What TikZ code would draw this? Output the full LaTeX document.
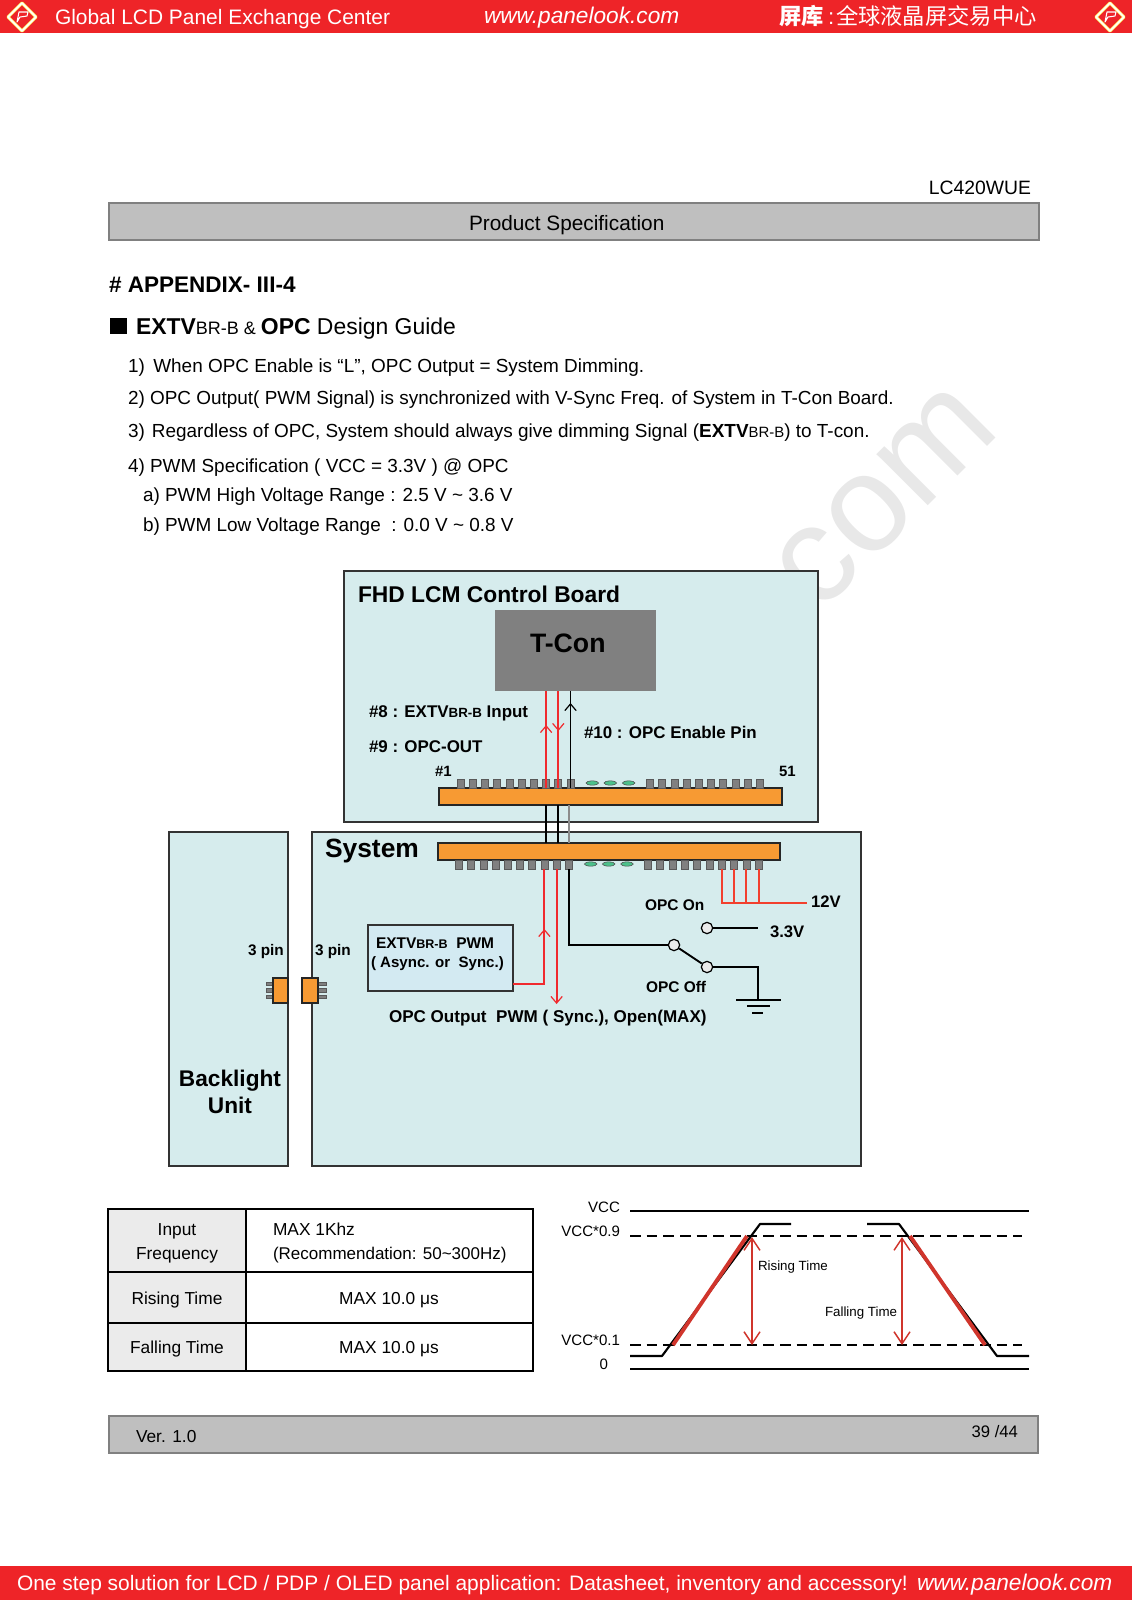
\documentclass[tikz,border=0pt]{standalone}
\usepackage{fontspec}
\setmainfont{Liberation Sans}
\newfontfamily\cjk{Noto Sans CJK SC}
\usetikzlibrary{arrows.meta,calc,shapes.geometric}
\newcommand\pz[1]{\fontsize{#1}{#1}\selectfont}
\newcommand\rbox[6]{\node[#1,inner sep=0pt,outer sep=0pt,minimum width={((#5)-(#3))*0.75pt},minimum height={((#6)-(#4))*0.75pt}] (#2) at ({((#3)+(#5))/2},{((#4)+(#6))/2}) {};}
\definecolor{barred}{HTML}{EE2428}
\definecolor{panel}{HTML}{D6ECED}
\definecolor{extfill}{HTML}{D3EAF2}
\definecolor{orangeb}{HTML}{F79A33}
\definecolor{wirered}{HTML}{F02A2E}
\definecolor{wire12}{HTML}{F2402E}
\definecolor{wave}{HTML}{D0352C}
\tikzset{
 txt/.style={anchor=base west,inner sep=0pt,outer sep=0pt,text=#1},
 txt/.default=black,
 ctxt/.style={anchor=base,inner sep=0pt,outer sep=0pt,text=black},
 rtxt/.style={anchor=base east,inner sep=0pt,outer sep=0pt,text=black},
 redbar/.style={fill=barred,draw=none},
 graybar/.style={fill=black!25,draw=black!50,line width=.9pt},
 panelbox/.style={fill=panel,draw=black!80,line width=.9pt},
 orangebox/.style={fill=orangeb,draw=black!85,line width=1pt},
 pinbox/.style={fill=black!50,draw=black!65,line width=.5pt},
 dotpin/.style={ellipse,fill=teal!70!green!70,draw=black!70,line width=.4pt,inner sep=0pt,minimum width=9.5pt,minimum height=3.2pt},
 redw/.style={draw=wirered,line width=1.5pt},
 blkw/.style={draw=black,line width=1.4pt},
 busw/.style={draw=black,line width=1.8pt},
 barb/.style={-{Straight Barb[length=5pt,width=8.5pt,line width=.9pt]}},
 swc/.style={circle,fill=black!8,draw=black,line width=.9pt,inner sep=0pt,minimum size=8.5pt},
 wf/.style={draw=black,line width=1.6pt},
 wfd/.style={draw=black,line width=1.5pt,dash pattern=on 8pt off 4.5pt},
 wfr/.style={draw=wave,line width=2.9pt},
 wfa/.style={draw=wave,line width=1.1pt,{Straight Barb[length=9pt,width=12pt,line width=1.1pt]}-{Straight Barb[length=9pt,width=12pt,line width=1.1pt]}},
 logo/.style={draw=white,line width=1.5pt,line join=round},
}
\begin{document}
\begin{tikzpicture}[x=0.75pt,y=-0.75pt]
\useasboundingbox (0,0) rectangle (1132,1600);
% watermark
\node[rotate=45,inner sep=0pt,text=black!9] (wm) at (885,498) {\pz{103}com};
% bars
\rbox{redbar}{topbar}{0}{0}{1132}{33}
\rbox{redbar}{botbar}{0}{1566}{1132}{1600}
\foreach \n/\cx in {la/22,lb/1110}{
 \draw[logo,draw=yellow!60!white,line width=2.2pt] (\cx,3)--(\cx+14,17)--(\cx,31)--(\cx-14,17)--cycle;
 \draw[logo,line width=1.2pt] (\cx,3)--(\cx+14,17)--(\cx,31)--(\cx-14,17)--cycle;
 \draw[white,line width=.8pt,line join=round] (\cx-5,22)--(\cx-3,12)--(\cx+6,12)--(\cx+5,16)--(\cx-2,17)--cycle;
}
\node[txt=white] (h1) at (55,24) {\pz{15.7}Global LCD Panel Exchange Center};
\node[txt=white] (h2) at (484,23) {\pz{17}\itshape www.panelook.com};
\node[txt=white] (h3) at (779,24) {\pz{16.7}\cjk\bfseries 屏库};
\node[txt=white] (h4) at (828,24) {\pz{16.7}:\hspace{1.5pt}\cjk 全球液晶屏交易中心};
\node[txt=white] (f1) at (17,1590) {\pz{15.7}One step solution for LCD / PDP / OLED panel application: Datasheet, inventory and accessory!};
\node[txt=white] (f2) at (917,1590) {\pz{17}\itshape www.panelook.com};
% heading
\node[rtxt] (model) at (1031,194) {\pz{14.5}LC420WUE};
\rbox{graybar}{specbar}{109}{203}{1039}{240}
\node[txt] (spec) at (469,230) {\pz{15.6}Product Specification};
\node[txt] (app) at (109,292) {\pz{16.9}\bfseries \# APPENDIX- III-4};
\rbox{fill=black}{sq}{110}{318}{127}{334}
\node[txt] (guide) at (136,334) {\pz{17.2}\textbf{EXTV}{\pz{13.5}BR-B \& }\textbf{OPC} Design Guide};
\node[txt] (l1) at (128,372) {\pz{14.2}1)\hspace{.45em}When OPC Enable is “L", OPC Output = System Dimming.};
\node[txt] (l2) at (128,404) {\pz{14.2}2) OPC Output( PWM Signal) is synchronized with V-Sync Freq. of System in T-Con Board.};
\node[txt] (l3) at (128,437) {\pz{14.2}3)\hspace{.1em} Regardless of OPC, System should always give dimming Signal (\textbf{EXTV}{\pz{11.2}BR-B}) to T-con.};
\node[txt] (l4) at (128,472) {\pz{14.2}4) PWM Specification ( VCC = 3.3V ) @ OPC};
\node[txt] (l5) at (143,501) {\pz{14.2}a) PWM High Voltage Range : 2.5 V \textasciitilde{} 3.6 V};
\node[txt] (l6) at (143,531) {\pz{14.2}b) PWM Low Voltage Range \ : 0.0 V \textasciitilde{} 0.8 V};
% boxes
\rbox{panelbox}{fhd}{344}{571}{818}{822}
\rbox{panelbox}{blu}{169}{832}{288}{1166}
\rbox{panelbox}{sys}{312}{832}{861}{1166}
\rbox{fill=black!50}{tcon}{495}{610}{656}{691}
\node[txt] (fhdt) at (358,602) {\pz{17.1}\bfseries FHD LCM Control Board};
\node[txt] (tcont) at (530,652) {\pz{20}\bfseries T-Con};
\node[txt] (n8) at (369,717) {\pz{12.7}\bfseries \#8 : EXTV{\pz{10}BR-B} Input};
\node[txt] (n9) at (369,752) {\pz{12.7}\bfseries \#9 : OPC-OUT};
\node[txt] (n10) at (584,738) {\pz{12.7}\bfseries \#10 : OPC Enable Pin};
\node[txt] (n1) at (435,776) {\pz{11.2}\bfseries \#1};
\node[txt] (n51) at (779,776) {\pz{11.2}\bfseries 51};
% connectors boards
\rbox{orangebox}{obt}{439}{788}{782}{805}
\rbox{orangebox}{obb}{438}{843}{780}{860}
\foreach \i in {1,...,10}{
 \pgfmathsetmacro\xa{460.7+12.2*(\i-1)}
 \pgfmathsetmacro\xb{650+12.2*(\i-1)}
 \pgfmathsetmacro\xc{459+12.2*(\i-1)}
 \pgfmathsetmacro\xd{648+12.3*(\i-1)}
 \rbox{pinbox}{pt\i}{\xa-3.5}{779}{\xa+3.5}{788}
 \rbox{pinbox}{qt\i}{\xb-3.5}{779}{\xb+3.5}{788}
 \rbox{pinbox}{pb\i}{\xc-3.5}{860}{\xc+3.5}{869}
 \rbox{pinbox}{qb\i}{\xd-3.5}{860}{\xd+3.5}{869}
}
\foreach \i/\xa/\xb in {1/592.3/590.7,2/610.3/608.7,3/628.7/627}{
 \node[dotpin] (dt\i) at (\xa,783) {};
 \node[dotpin] (db\i) at (\xb,864) {};
}
% T-Con wires
\draw[redw] (pt8.center |- tcon.south) -- (pt8.south);
\draw[redw] (pt9.center |- tcon.south) -- (pt9.south);
\draw[blkw] (pt10.center |- tcon.south) -- (pt10.south);
\coordinate (a8) at (pt8.center |- 0,725);
\coordinate (a9) at (pt9.center |- 0,731);
\coordinate (a10) at (pt10.center |- 0,703);
\draw[redw,barb,line width=.9pt] (pt8.south) -- (a8);
\draw[redw,barb,line width=.9pt] (tcon.south -| pt9.center) -- (a9);
\draw[blkw,barb,line width=.9pt] (pt10.south) -- (a10);
% bus wires
\draw[busw] ($(obt.south -| pb8.center)+(1.5,0)$) -- ($(obb.north -| pb8.center)+(1.5,0)$);
\draw[busw] ($(obt.south -| pb9.center)+(1.5,0)$) -- ($(obb.north -| pb9.center)+(1.5,0)$);
\draw[busw,draw=black!45] (obt.south -| pb10.center) -- (obb.north -| pb10.center);
% system text
\node[txt] (syst) at (325,857) {\pz{19.8}\bfseries System};
\node[ctxt] (bl1) at (230,1086) {\pz{17}\bfseries Backlight};
\node[ctxt] (bl2) at (230,1113) {\pz{17}\bfseries Unit};
\node[txt] (p3a) at (248,955) {\pz{11.5}\bfseries 3 pin};
\node[txt] (p3b) at (315,955) {\pz{11.5}\bfseries 3 pin};
% 3-pin connectors
\foreach \y [count=\k] in {984,990.5,997}{
 \rbox{pinbox}{cl\k}{266}{\y-1.7}{273}{\y+1.7}
 \rbox{pinbox}{cr\k}{318}{\y-1.7}{326}{\y+1.7}
}
\rbox{orangebox}{clo}{273}{978}{288}{1003}
\rbox{orangebox}{cro}{302}{978}{318}{1003}
% EXTV box
\rbox{fill=extfill,draw=black!80,line width=1.1pt}{ext}{368}{925}{513}{991}
\node[txt] (e1) at (376,948) {\pz{11.6}\bfseries EXTV{\pz{9.4}BR-B} \ PWM};
\node[txt] (e2) at (371,967) {\pz{11.3}\bfseries ( Async. or \ Sync.)};
\node[txt] (oo) at (389,1022) {\pz{12.8}\bfseries OPC Output \ PWM ( Sync.), Open(MAX)};
% system wires
\coordinate (ej) at (513,984);
\coordinate (a8b) at (pb8.center |- 0,929);
\coordinate (a9b) at (pb9.center |- 0,1004);
\draw[redw] (ej) -| (pb8.south);
\draw[redw,barb,line width=.9pt] (ej) -| (a8b);
\draw[redw,barb] (pb9.south) -- (a9b);
\node[swc] (s1) at (674,945) {};
\node[swc] (s2) at (707,967) {};
\node[swc] (s3) at (707,928) {};
\coordinate (v33) at (758,928);
\coordinate (gnd) at (758,1000);
\draw[blkw] (pb10.south) |- (s1.west);
\draw[blkw] (s1) -- (s2);
\draw[blkw] (s3) -- (v33);
\draw[blkw] (s2) -| (gnd);
\coordinate (g1a) at (736,1000);\coordinate (g1b) at (781,1000);
\coordinate (g2a) at (747,1006);\coordinate (g2b) at (770,1006);
\coordinate (g3a) at (752,1013);\coordinate (g3b) at (763,1013);
\draw[blkw] (g1a)--(g1b);
\draw[blkw,line width=1.1pt] (g2a)--(g2b);
\draw[blkw,line width=1.1pt] (g3a)--(g3b);
% 12V
\coordinate (v12) at (807,903);
\draw[redw,draw=wire12] (qb7.south) |- (v12);
\draw[redw,draw=wire12] (qb8.south) -- (qb8.south |- v12);
\draw[redw,draw=wire12] (qb9.south) -- (qb9.south |- v12);
\draw[redw,draw=wire12] (qb10.south) -- (qb10.south |- v12);
\node[txt] (t12) at (811,907) {\pz{12.5}\bfseries 12V};
\node[txt] (t33) at (770,937) {\pz{12.5}\bfseries 3.3V};
\node[txt] (ton) at (645,910) {\pz{11.6}\bfseries OPC On};
\node[txt] (tof) at (646,992) {\pz{11.6}\bfseries OPC Off};
% table
\rbox{fill=black!8}{tl1}{108}{1209}{246}{1272}
\rbox{fill=black!8}{tl2}{108}{1272}{246}{1323}
\rbox{fill=black!8}{tl3}{108}{1323}{246}{1371}
\rbox{draw=black,line width=2.1pt}{tab}{108}{1209}{533}{1371}
\draw[black,line width=1.3pt] (tl1.north east) -- (tl3.south east);
\draw[black,line width=1.3pt] (tl1.south west) -- (tl1.south -| tab.east);
\draw[black,line width=1.3pt] (tl2.south west) -- (tl2.south -| tab.east);
\node[ctxt] (c1) at (177,1235) {\pz{13}Input};
\node[ctxt] (c2) at (177,1259) {\pz{13}Frequency};
\node[ctxt] (c3) at (177,1304) {\pz{13}Rising Time};
\node[ctxt] (c4) at (177,1353) {\pz{13}Falling Time};
\node[txt] (d1) at (273,1235) {\pz{13}MAX 1Khz};
\node[txt] (d2) at (273,1259) {\pz{12.75}(Recommendation: 50\textasciitilde{}300Hz)};
\node[ctxt] (d3) at (389,1304) {\pz{13}MAX 10.0 μs};
\node[ctxt] (d4) at (389,1353) {\pz{13}MAX 10.0 μs};
% waveform
\coordinate (va) at (630,1211);\coordinate (vb) at (1029,1211);
\coordinate (za) at (630,1369);\coordinate (zb) at (1029,1369);
\coordinate (ha) at (630,1236);\coordinate (hb) at (1022,1236);
\coordinate (la) at (630,1345);\coordinate (lb) at (1022,1345);
\draw[wf] (va)--(vb);
\draw[wf] (za)--(zb);
\draw[wfd] (ha)--(hb);
\draw[wfd] (la)--(lb);
\coordinate (r0) at (630,1356);\coordinate (r1) at (662,1356);\coordinate (r2) at (760,1224);\coordinate (r3) at (791,1224);
\coordinate (f0) at (867,1224);\coordinate (f1c) at (899,1224);\coordinate (f2c) at (997,1356);\coordinate (f3) at (1029,1356);
\draw[wf,line join=round] (r0)--(r1)--(r2)--(r3);
\draw[wf,line join=round] (f0)--(f1c)--(f2c)--(f3);
\coordinate (w1) at (673,1345);\coordinate (w2) at (747,1236);
\coordinate (w3) at (910,1236);\coordinate (w4) at (985,1345);
\draw[wfr] (w1)--(w2);
\draw[wfr] (w3)--(w4);
\coordinate (x1) at (752,1237);\coordinate (x2) at (752,1345);
\coordinate (x3) at (902,1237);\coordinate (x4) at (902,1345);
\draw[wfa] (x1)--(x2);
\draw[wfa] (x3)--(x4);
\node[rtxt] (y1) at (620,1212) {\pz{11.3}VCC};
\node[rtxt] (y2) at (620,1236) {\pz{11.3}VCC*0.9};
\node[rtxt] (y3) at (620,1345) {\pz{11.3}VCC*0.1};
\node[rtxt] (y4) at (608,1369) {\pz{11.3}0};
\node[txt] (rt) at (758,1270) {\pz{10}Rising Time};
\node[txt] (ft) at (825,1316) {\pz{10}Falling Time};
% footer
\rbox{graybar}{footbar}{109}{1416}{1038}{1453}
\node[txt] (ver) at (136,1442) {\pz{13}Ver. 1.0};
\node[rtxt] (pg) at (1018,1437) {\pz{12.5}39 /44};
\end{tikzpicture}
\end{document}
